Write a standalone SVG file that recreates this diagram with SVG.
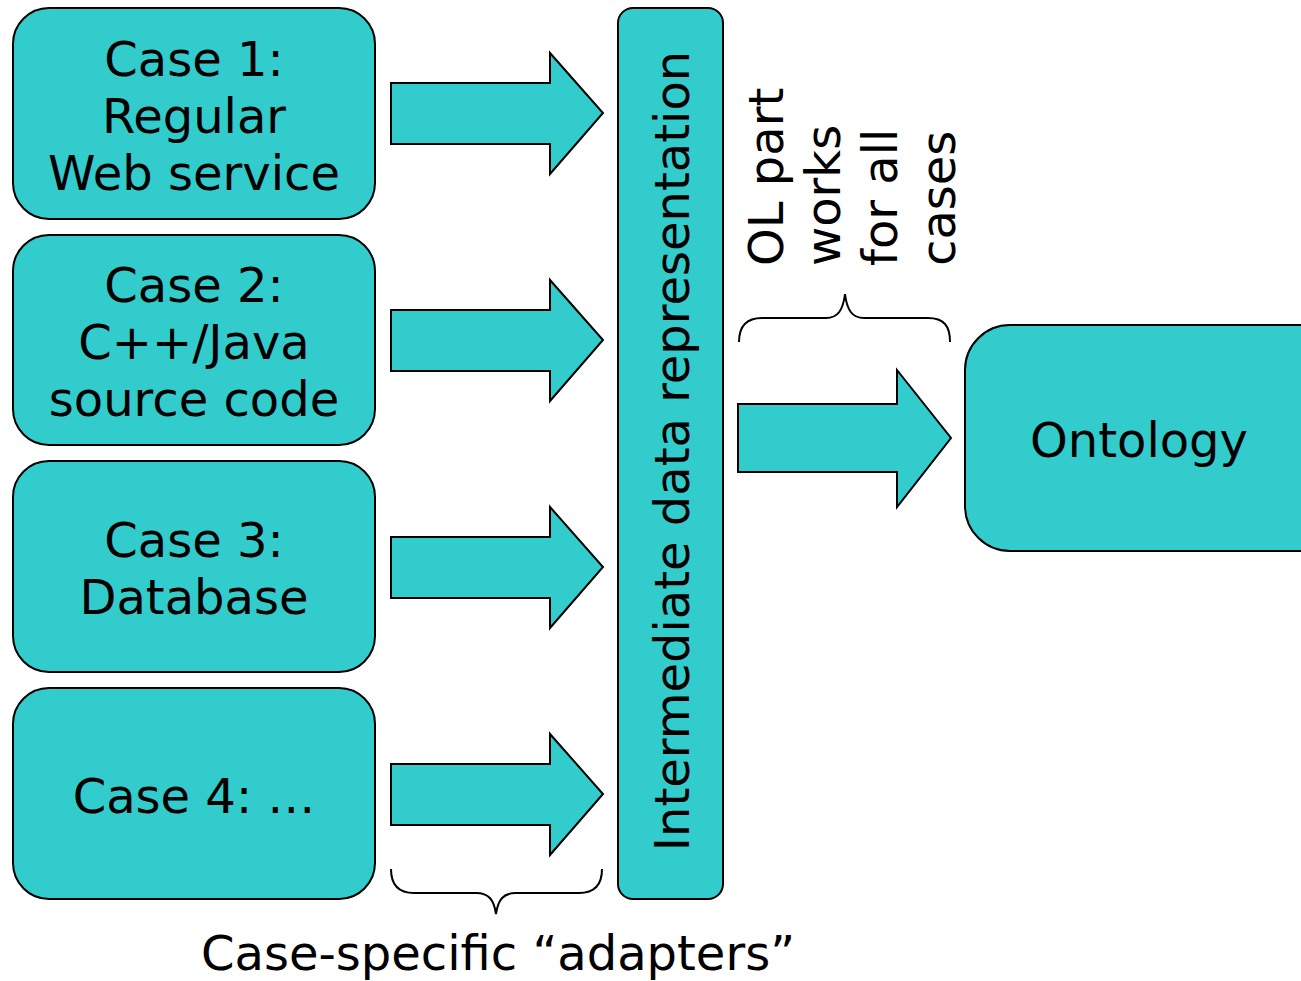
<svg xmlns="http://www.w3.org/2000/svg" width="1301" height="981" viewBox="0 0 1301 981">
<style>
.box{fill:#33CCCC;stroke:#000;stroke-width:2}
.arr{fill:#33CCCC;stroke:#000;stroke-width:2;stroke-linejoin:miter}
.brace{fill:none;stroke:#000;stroke-width:2}
text{font-family:"DejaVu Sans","Verdana",sans-serif;font-size:48px;fill:#000}
.c{text-anchor:middle}
</style>
<rect width="1301" height="981" fill="#fff"/>
<g id="case1">
<rect class="box" x="13" y="8" width="362" height="211" rx="36"/>
<text class="c" x="194" y="76">Case 1:</text>
<text class="c" x="194" y="133">Regular</text>
<text class="c" x="194" y="190">Web service</text>
</g>
<g id="case2">
<rect class="box" x="13" y="235" width="362" height="210" rx="36"/>
<text class="c" x="194" y="302">Case 2:</text>
<text class="c" x="194" y="359">C++/Java</text>
<text class="c" x="194" y="416">source code</text>
</g>
<g id="case3">
<rect class="box" x="13" y="461" width="362" height="211" rx="36"/>
<text class="c" x="194" y="557">Case 3:</text>
<text class="c" x="194" y="614">Database</text>
</g>
<g id="case4">
<rect class="box" x="13" y="688" width="362" height="211" rx="36"/>
<text class="c" x="194" y="813">Case 4: …</text>
</g>
<g id="intermediate">
<rect class="box" x="618" y="8" width="105" height="891" rx="15"/>
<text class="c" transform="translate(689,451) rotate(-90)">Intermediate data representation</text>
</g>
<g id="ontology">
<rect class="box" x="965" y="325" width="380" height="226" rx="45"/>
<text class="c" x="1139" y="457">Ontology</text>
</g>
<g id="connectors">
<polygon class="arr" points="391,83 550,83 550,53 603,113 550,174 550,144 391,144"/>
<polygon class="arr" points="391,310 550,310 550,280 603,340 550,401 550,371 391,371"/>
<polygon class="arr" points="391,537 550,537 550,507 603,567 550,628 550,598 391,598"/>
<polygon class="arr" points="391,764 550,764 550,734 603,794 550,855 550,825 391,825"/>
<polygon class="arr" points="738,404 897,404 897,370 951,438 897,507 897,472 738,472"/>
</g>
<g id="brace-top">
<path class="brace" d="M739,342 C739,326 746,318 762,318 L826,318 C838,318 843,310 845,294 C847,310 852,318 864,318 L928,318 C944,318 950,326 950,342"/>
<text transform="rotate(-90)" x="-266" y="783">OL part</text>
<text transform="rotate(-90)" x="-266" y="840">works</text>
<text transform="rotate(-90)" x="-266" y="897">for all</text>
<text transform="rotate(-90)" x="-266" y="955">cases</text>
</g>
<g id="brace-bottom">
<path class="brace" d="M391,869 C391,885 398,893 414,893 L476,893 C489,893 494,900 496,914 C498,900 503,893 516,893 L579,893 C595,893 602,885 602,869"/>
<text class="c" x="498" y="970">Case-specific “adapters”</text>
</g>
</svg>
